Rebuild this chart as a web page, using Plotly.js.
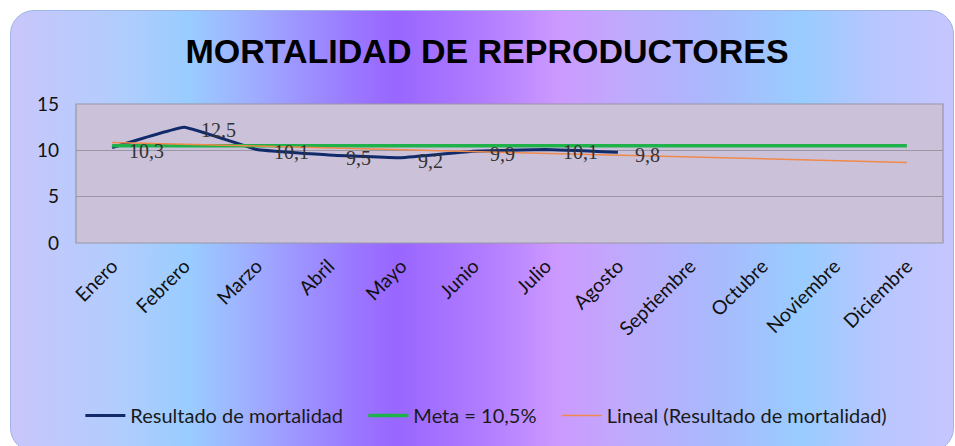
<!DOCTYPE html>
<html>
<head>
<meta charset="utf-8">
<script src="https://cdn.plot.ly/plotly-3.0.1.min.js"></script>
<style>
html,body{margin:0;padding:0;background:#ffffff;width:955px;height:446px;overflow:hidden;}
#bg{position:absolute;left:10px;top:10px;width:942px;height:440px;border-radius:24px;
border:1px solid #9fb4e6;
background:linear-gradient(to right,#c9c6fb 0%,#b0cdfd 12%,#99ccff 19%,#9fb0ff 25%,#9a75ff 37%,#9966ff 41%,#b07cff 50%,#cc99ff 58%,#bfaafc 65%,#aab8fc 74%,#99ccff 84%,#b8c6ff 92%,#c6c6ff 100%);}
#chart{position:absolute;left:0;top:0;width:955px;height:446px;}
</style>
</head>
<body>
<div id="bg"></div>
<div id="chart"></div>
<script>
const months = ['Enero','Febrero','Marzo','Abril','Mayo','Junio','Julio','Agosto','Septiembre','Octubre','Noviembre','Diciembre'];
const mortalityMonths = ['Enero','Febrero','Marzo','Abril','Mayo','Junio','Julio','Agosto'];
const mortality = [10.3, 12.5, 10.1, 9.5, 9.2, 9.9, 10.1, 9.8];
const meta = [10.5,10.5,10.5,10.5,10.5,10.5,10.5,10.5,10.5,10.5,10.5,10.5];
const trendMonths = ['Enero','Diciembre'];
const trend = [10.85, 8.7];
const yTicks = [0, 5, 10, 15];
const seriesNames = ['Resultado de mortalidad', 'Meta = 10,5%', 'Lineal (Resultado de mortalidad)'];

const labels = mortality.map(v => v.toFixed(1).replace('.', ','));
const pad = '\u00a0\u00a0\u00a0';

const traces = [
  {
    x: mortalityMonths, y: mortality, type: 'scatter', mode: 'lines',
    name: seriesNames[0] + pad,
    line: {color: '#112a6a', width: 3, shape: 'spline', smoothing: 0.25}
  },
  {
    x: months, y: meta, type: 'scatter', mode: 'lines',
    name: seriesNames[1] + pad,
    line: {color: '#1fb24b', width: 3.5}
  },
  {
    x: trendMonths, y: trend, type: 'scatter', mode: 'lines',
    name: seriesNames[2],
    line: {color: '#f0894a', width: 1.5}
  }
];

const annotations = mortalityMonths.map((m, i) => ({
  x: m, y: mortality[i], xref: 'x', yref: 'y', text: labels[i],
  showarrow: false, xanchor: 'left', yanchor: 'middle', xshift: 15, yshift: -3,
  font: {family: 'Liberation Serif, serif', size: 20, color: '#333333'}
}));

const layout = {
  width: 955, height: 446,
  paper_bgcolor: 'rgba(0,0,0,0)',
  plot_bgcolor: '#cbc2da',
  margin: {l: 76, r: 12, t: 104, b: 203},
  title: {
    text: 'MORTALIDAD DE REPRODUCTORES',
    font: {family: 'Liberation Sans, Arial, sans-serif', size: 34, color: '#000000', weight: 'bold'},
    x: 0.51, xanchor: 'center', y: 0.885, yanchor: 'middle'
  },
  font: {family: 'Lato, Open Sans, sans-serif', color: '#1a1a1a'},
  annotations: annotations,
  xaxis: {
    type: 'category', categoryorder: 'array', categoryarray: months,
    tickangle: -45, tickfont: {family: 'Lato, sans-serif', size: 19.5, color: '#111111'},
    showgrid: false, zeroline: false, showline: false, ticks: '', ticklabelstandoff: 7,
    range: [-0.5, 11.5], fixedrange: true
  },
  yaxis: {
    range: [0, 15], tickvals: yTicks, ticktext: yTicks.map(String),
    tickfont: {family: 'Lato, sans-serif', size: 19, color: '#111111'},
    showgrid: true, gridcolor: '#9a96a4', gridwidth: 1.2,
    zeroline: false, showline: false, ticks: '', ticklabelstandoff: 16,
    fixedrange: true
  },
  shapes: [
    {type: 'rect', xref: 'paper', yref: 'paper', x0: 0, x1: 1, y0: 0, y1: 1,
     line: {color: '#9a96a4', width: 1.2}, fillcolor: 'rgba(0,0,0,0)', layer: 'below'}
  ],
  legend: {
    orientation: 'h', x: 0.005, xanchor: 'left', y: -1.1, yanchor: 'top',
    font: {family: 'Lato, sans-serif', size: 20, color: '#1a1a1a'},
    bgcolor: 'rgba(0,0,0,0)', itemwidth: 40, tracegroupgap: 0
  },
  showlegend: true
};

Plotly.newPlot('chart', traces, layout, {displayModeBar: false, staticPlot: true});
</script>
</body>
</html>
